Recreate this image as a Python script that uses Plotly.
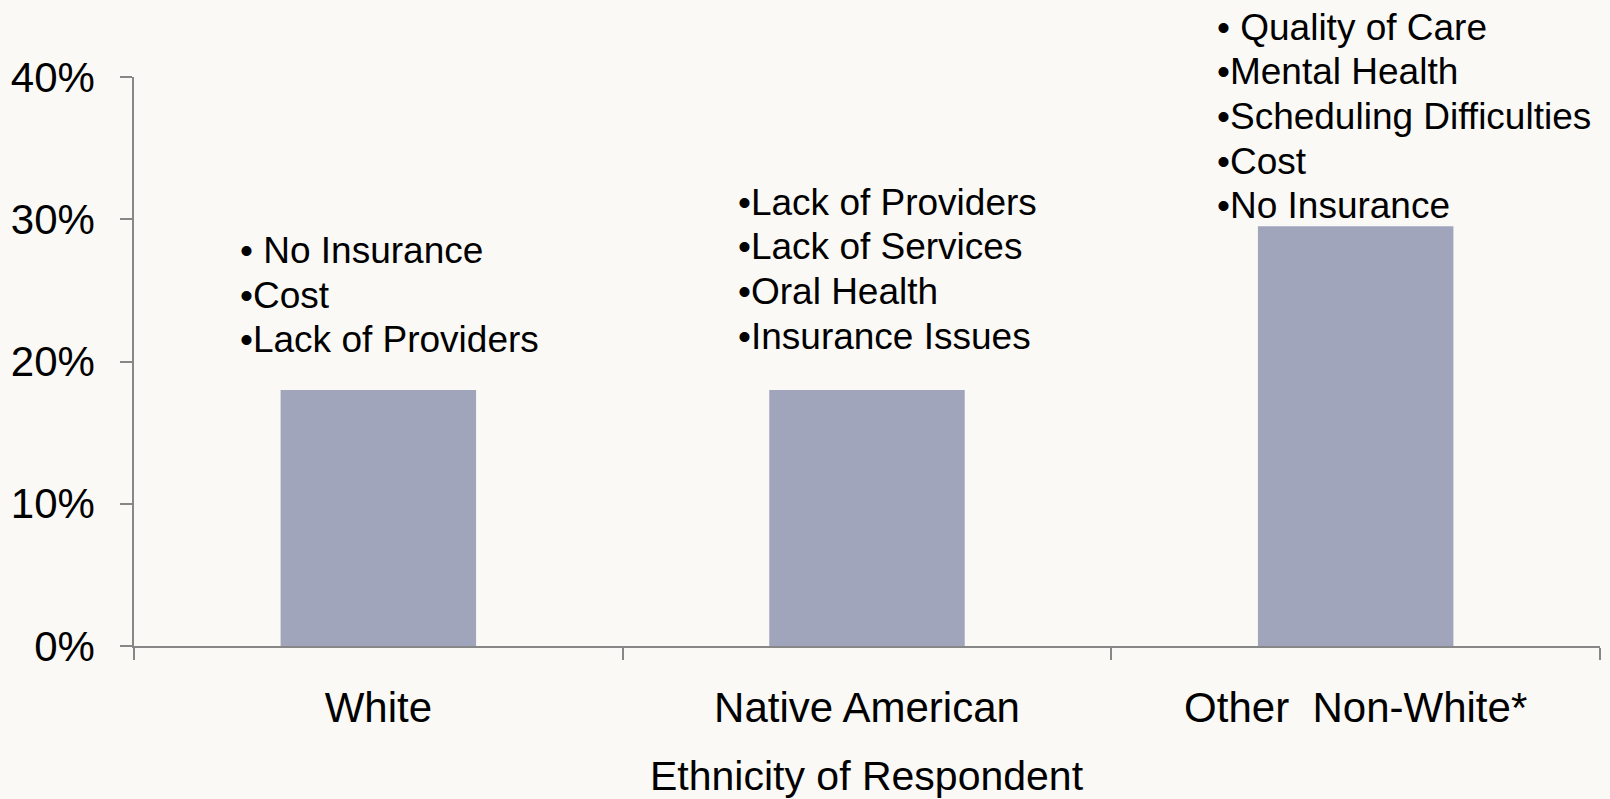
import plotly.graph_objects as go

categories = ["White", "Native American", "Other  Non-White*"]
values = [18.0, 18.0, 29.5]
y_ticks = [0, 10, 20, 30, 40]
y_tick_labels = ["0%", "10%", "20%", "30%", "40%"]
y_range = [0, 40]
x_title = "Ethnicity of Respondent"

issues_white = ["\u2022 No Insurance", "\u2022Cost", "\u2022Lack of Providers"]
issues_native = ["\u2022Lack of Providers", "\u2022Lack of Services", "\u2022Oral Health", "\u2022Insurance Issues"]
issues_other = ["\u2022 Quality of Care", "\u2022Mental Health", "\u2022Scheduling Difficulties", "\u2022Cost", "\u2022No Insurance"]

# text block placement: (category index, x offset in category units, first-line y in axis units)
blocks = [
    (0, -0.288, 27.8, issues_white),
    (1, -0.269, 31.2, issues_native),
    (2, -0.288, 43.5, issues_other),
]
line_step = 3.14  # axis units between lines

FONT = "Liberation Sans, Arial, sans-serif"
BG = "#FAF9F5"
AXIS = "#878787"

fig = go.Figure()
fig.add_trace(go.Bar(
    x=categories, y=values, width=0.4,
    marker=dict(color="#A0A5BB", line=dict(width=0)),
    showlegend=False, hoverinfo="skip",
))

annotations = []
for idx, dx, y0, lines in blocks:
    for i, t in enumerate(lines):
        yv = y0 - i * line_step
        annotations.append(dict(
            xref="x", yref="paper", x=idx + dx,
            y=(yv - y_range[0]) / (y_range[1] - y_range[0]),
            text=t, showarrow=False, xanchor="left", yanchor="middle",
            font=dict(family=FONT, size=37, color="black"),
        ))

# x-axis title drawn as a centred annotation below the category labels
annotations.append(dict(
    xref="paper", yref="paper", x=0.5, y=-0.229,
    text=x_title, showarrow=False, xanchor="center", yanchor="middle",
    font=dict(family=FONT, size=41, color="black"),
))

fig.update_layout(
    width=1610, height=799,
    margin=dict(l=134, r=10, t=77, b=153),
    paper_bgcolor=BG, plot_bgcolor=BG,
    font=dict(family=FONT, color="black"),
    annotations=annotations,
)
fig.update_xaxes(
    automargin=False,
    showline=True, linecolor=AXIS, linewidth=1.5,
    ticks="outside", tickson="boundaries", ticklen=12, tickcolor=AXIS, tickwidth=1.5,
    tickfont=dict(size=42, family=FONT, color="black"),
    ticklabelstandoff=24,
    showgrid=False, zeroline=False,
)
fig.update_yaxes(
    automargin=False,
    range=y_range, tickvals=y_ticks, ticktext=y_tick_labels,
    showline=True, linecolor=AXIS, linewidth=1.5,
    ticks="outside", ticklen=12, tickcolor=AXIS, tickwidth=1.5,
    tickfont=dict(size=42, family=FONT, color="black"),
    ticklabelstandoff=17,
    showgrid=False, zeroline=False,
)

fig.write_html(
    "out.html",
    config={"displayModeBar": False},
    post_script="document.body.style.margin='0';document.body.style.background='%s';" % BG,
)
